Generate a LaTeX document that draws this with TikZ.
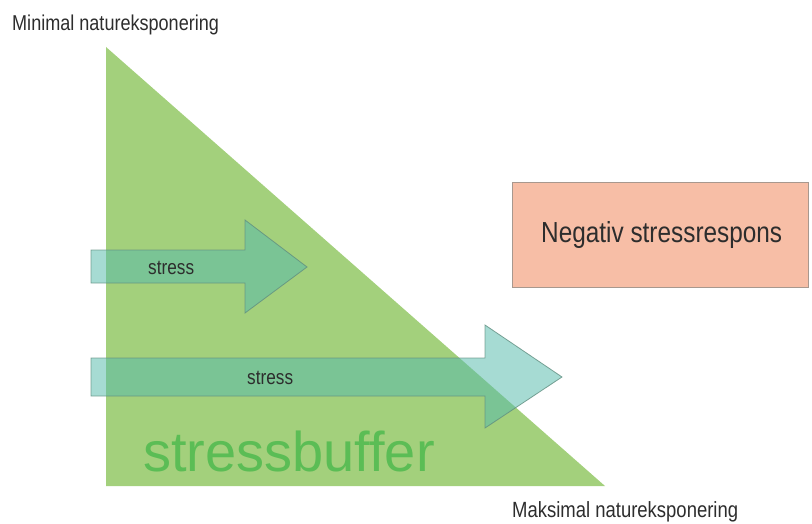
\documentclass[tikz,border=0pt]{standalone}
\usepackage{fontspec}
\setmainfont{Liberation Sans}
\newfontfamily\narrowsans[FakeStretch=0.84]{Liberation Sans}
\usetikzlibrary{positioning}

\definecolor{buffergreen}{RGB}{163,208,124}
\definecolor{buffertext}{RGB}{91,189,85}
\definecolor{arrowfill}{RGB}{87,187,172}
\definecolor{arrowline}{RGB}{96,142,128}
\definecolor{responsefill}{RGB}{247,190,166}
\definecolor{responseline}{RGB}{168,152,142}
\definecolor{labeltext}{RGB}{45,45,45}

\tikzset{
  stressarrow/.style={fill=arrowfill, fill opacity=0.53, draw=arrowline, draw opacity=0.8, line width=0.8pt, line join=miter},
  responsebox/.style={fill=responsefill, draw=responseline, line width=1.2pt},
  smalllabel/.style={inner sep=0pt, text=labeltext, font=\narrowsans\fontsize{21.5}{24}\selectfont},
  arrowlabel/.style={inner sep=0pt, text=labeltext, font=\narrowsans\fontsize{20.5}{23}\selectfont},
}

\begin{document}
\begin{tikzpicture}[x=1pt,y=-1pt]
  \useasboundingbox (0,0) rectangle (812,524);

  % buffer triangle
  \coordinate (apex) at (106,47);
  \coordinate (corner) at (106,486);
  \coordinate (tip) at (605,486);
  \fill[buffergreen] (apex) -- (corner) -- (tip) -- cycle;

  \node[anchor=base west, inner sep=0pt, text=buffertext,
        font=\fontsize{56}{62}\selectfont] (buffer) at (143,471) {stressbuffer};

  % short stress arrow
  \draw[stressarrow] (91,250) -- (245,250) -- (245,220) -- (307,267)
        -- (245,313) -- (245,283) -- (91,283) -- cycle;
  \node[arrowlabel, anchor=base west] (stressA) at (148,274) {stress};

  % long stress arrow
  \draw[stressarrow] (91,358) -- (485,358) -- (485,325) -- (562,377)
        -- (485,428) -- (485,396) -- (91,396) -- cycle;
  \node[arrowlabel, anchor=base west] (stressB) at (247,384) {stress};

  % response box
  \node[responsebox, minimum width=296pt, minimum height=105pt, inner sep=0pt,
        anchor=north west] (response) at (512,182) {};
  \node[anchor=base west, inner sep=0pt, text=labeltext,
        font=\narrowsans\fontsize{29}{33}\selectfont] (responsetext) at (541,243) {Negativ stressrespons};

  % axis labels
  \node[smalllabel, anchor=base west] (minlabel) at (12,31) {Minimal natureksponering};
  \node[smalllabel, anchor=base west, font=\narrowsans\fontsize{22}{25}\selectfont] (maxlabel) at (512,517) {Maksimal natureksponering};
\end{tikzpicture}
\end{document}
